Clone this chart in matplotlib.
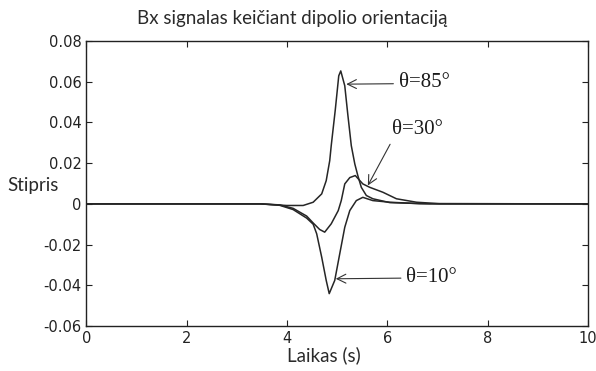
import matplotlib
matplotlib.use("Agg")
import matplotlib.pyplot as plt

# Bx signalas, trys dipolio orientacijos
t_85 = [0, 3.46, 3.99, 4.32, 4.52, 4.69, 4.78, 4.85, 4.88, 4.96, 5.03, 5.07,
        5.15, 5.21, 5.28, 5.35, 5.41, 5.48, 5.58, 5.71, 6.05, 6.84, 10]
bx_85 = [0, 0, -0.0008, -0.0008, 0.0008, 0.0049, 0.0114, 0.0212, 0.0286, 0.046,
         0.0629, 0.0653, 0.058, 0.044, 0.0286, 0.0196, 0.0139, 0.0081, 0.0041,
         0.0025, 0.0006, 0, 0]

t_30 = [0, 3.46, 3.85, 4.12, 4.39, 4.52, 4.65, 4.75, 4.88, 5.02, 5.08, 5.15,
        5.25, 5.36, 5.51, 5.65, 5.91, 6.18, 6.58, 7.03, 10]
bx_30 = [0, 0, -0.0005, -0.0022, -0.0060, -0.0094, -0.0126, -0.0139, -0.0098,
         -0.0033, 0.0016, 0.0098, 0.0129, 0.0139, 0.0098, 0.0081, 0.0057,
         0.0025, 0.0008, 0.0001, 0]

t_10 = [0, 3.46, 3.85, 4.12, 4.39, 4.52, 4.59, 4.69, 4.78, 4.84, 4.95, 5.05,
        5.15, 5.25, 5.38, 5.51, 5.71, 6.05, 6.64, 10]
bx_10 = [0, 0, -0.0007, -0.0028, -0.0070, -0.0100, -0.0147, -0.0262, -0.0376,
         -0.0441, -0.0376, -0.0245, -0.0115, -0.0033, 0.0016, 0.0032, 0.0016,
         0.0008, 0.0001, 0]

x_ticks = [0, 2, 4, 6, 8, 10]
y_ticks = [-0.06, -0.04, -0.02, 0, 0.02, 0.04, 0.06, 0.08]
y_tick_labels = ['-0.06', '-0.04', '-0.02', '0', '0.02', '0.04', '0.06', '0.08']

fig = plt.figure(figsize=(5.96, 3.71), dpi=100)
ax = fig.add_axes([0.1451, 0.1213, 0.8415, 0.7682])

line_c = '#262626'
ax.plot(t_85, bx_85, color=line_c, lw=1.1)
ax.plot(t_30, bx_30, color=line_c, lw=1.1)
ax.plot(t_10, bx_10, color=line_c, lw=1.1)

ax.set_xlim(0, 10)
ax.set_ylim(-0.06, 0.08)
ax.set_xticks(x_ticks)
ax.set_xticklabels([str(v) for v in x_ticks])
ax.set_yticks(y_ticks)
ax.set_yticklabels(y_tick_labels)
ax.tick_params(direction='in', length=4, width=0.8, top=True, right=True,
               labelsize=10.5, colors='#222222', pad=3.5)
for lab in ax.get_xticklabels() + ax.get_yticklabels():
    lab.set_family(['DejaVu Sans'])
for s in ax.spines.values():
    s.set_linewidth(1.0)
    s.set_color('#222222')

# uzrasai su rodyklemis
theta_font = dict(family=['Liberation Serif'], fontsize=15, color='#1a1a1a')
arrow = dict(arrowstyle='->', lw=0.8, color='#333333', shrinkA=2, shrinkB=0,
             mutation_scale=16)
ax.annotate('θ=85°', xy=(5.18, 0.0588), xytext=(6.23, 0.0595),
            ha='left', va='center', arrowprops=dict(arrow, relpos=(0, 0.45)),
            **theta_font)
ax.annotate('θ=30°', xy=(5.61, 0.009), xytext=(6.10, 0.0365),
            ha='left', va='center', arrowprops=dict(arrow, relpos=(0.03, 0.1)),
            **theta_font)
ax.annotate('θ=10°', xy=(4.97, -0.0368), xytext=(6.38, -0.036),
            ha='left', va='center', arrowprops=dict(arrow, relpos=(0, 0.45)),
            **theta_font)

txt_c = '#2a2a2a'
fig.text(0.49, 0.951, 'Bx signalas keičiant dipolio orientaciją',
         ha='center', va='center', fontsize=13.5, family=['Lato'], color=txt_c)
fig.text(0.013, 0.501, 'Stipris', ha='left', va='center', fontsize=13.5,
         family=['Lato'], color=txt_c)
fig.text(0.544, 0.043, 'Laikas (s)', ha='center', va='center', fontsize=13.5,
         family=['Lato'], color=txt_c)

fig.savefig('out.png', dpi=100)
